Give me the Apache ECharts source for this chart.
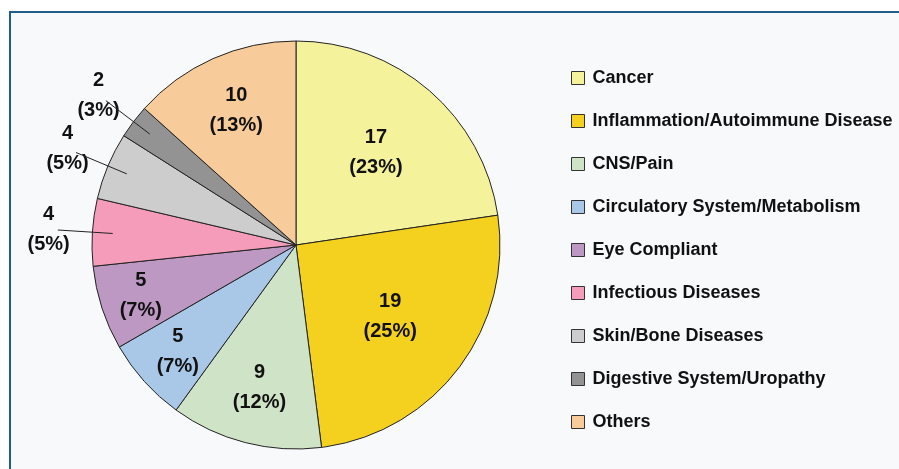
<!DOCTYPE html>
<html><head><meta charset="utf-8">
<script src="https://cdn.jsdelivr.net/npm/echarts@6/dist/echarts.min.js"></script>
<style>
html,body{margin:0;padding:0;background:#fff;}
#frame{position:absolute;left:9px;top:11px;width:1000px;height:1000px;border-left:2px solid #1f5f87;border-top:2px solid #1f5f87;background:#f8f9fb;}
#chart{position:absolute;left:0;top:0;width:899px;height:469px;}
</style></head><body>
<div id="frame"></div>
<div id="chart"></div>
<script>
const categories = ['Cancer','Inflammation/Autoimmune Disease','CNS/Pain','Circulatory System/Metabolism','Eye Compliant','Infectious Diseases','Skin/Bone Diseases','Digestive System/Uropathy','Others'];
const values = [17,19,9,5,5,4,4,2,10];
const colors = ['#f4f29b','#f5d11f','#cfe3c7','#a9c7e7','#bc98c3','#f59cbb','#cdcdcd','#939393','#f8cc9a'];
// label placement (style): radial factor of label centre, and whether label sits outside with a leader line
const labelRadius = [0.6,0.58,0.72,0.78,0.8,1.215,1.215,1.215,0.72];
const outsideLabel = [false,false,false,false,false,true,true,true,false];

const FONT = "'Liberation Sans',Arial,sans-serif";
const CX = 296, CY = 245, R = 204;
const total = values.reduce((a,b)=>a+b,0);
function midAngle(i){ let s=0; for(let k=0;k<i;k++) s+=values[k]; return (s+values[i]/2)/total*2*Math.PI; }
function pt(i,f){ const a=midAngle(i); return [CX+Math.sin(a)*R*f, CY-Math.cos(a)*R*f]; }

const chart = echarts.init(document.getElementById('chart'));
chart.setOption({
  animation:false,
  color: colors,
  legend:{
    orient:'vertical', left:566, top:62, icon:'rect', itemWidth:13, itemHeight:13, itemGap:21,
    data:categories, selectedMode:false,
    itemStyle:{borderColor:'#333',borderWidth:1},
    textStyle:{fontFamily:FONT,fontWeight:'bold',fontSize:18,lineHeight:22,color:'#111',padding:[0,0,0,3]}
  },
  series:[{
    type:'pie', center:[CX,CY], radius:R, startAngle:90, clockwise:true,
    avoidLabelOverlap:false, silent:true, z:2,
    itemStyle:{borderColor:'#222',borderWidth:1},
    label:{position:'inside',fontFamily:FONT,fontWeight:'bold',fontSize:20,lineHeight:30,color:'#111',
      formatter:p=>p.value+'\n('+Math.round(p.value/total*100)+'%)'},
    labelLine:{show:false},
    emphasis:{disabled:true},
    labelLayout:function(p){
      const c=pt(p.dataIndex,labelRadius[p.dataIndex]);
      return {x:c[0],y:c[1],align:'center',verticalAlign:'middle'};
    },
    data:categories.map((n,i)=>({name:n,value:values[i]}))
  },{
    // leader lines for the small slices: invisible pie at 0.9R whose label lines run outward
    type:'pie', center:[CX,CY], radius:R*0.9, startAngle:90, clockwise:true,
    avoidLabelOverlap:false, silent:true, legendHoverLink:false, z:5,
    itemStyle:{color:'rgba(0,0,0,0)',borderWidth:0},
    label:{show:true,position:'outside',formatter:' ',fontSize:1,color:'rgba(0,0,0,0)'},
    labelLine:{show:true,length:R*0.27,length2:0,smooth:false,lineStyle:{color:'#222',width:1}},
    emphasis:{disabled:true},
    data:categories.map((n,i)=>({name:n,value:values[i],
      label:{show:outsideLabel[i]}, labelLine:{show:outsideLabel[i]}}))
  }]
});
</script></body></html>
